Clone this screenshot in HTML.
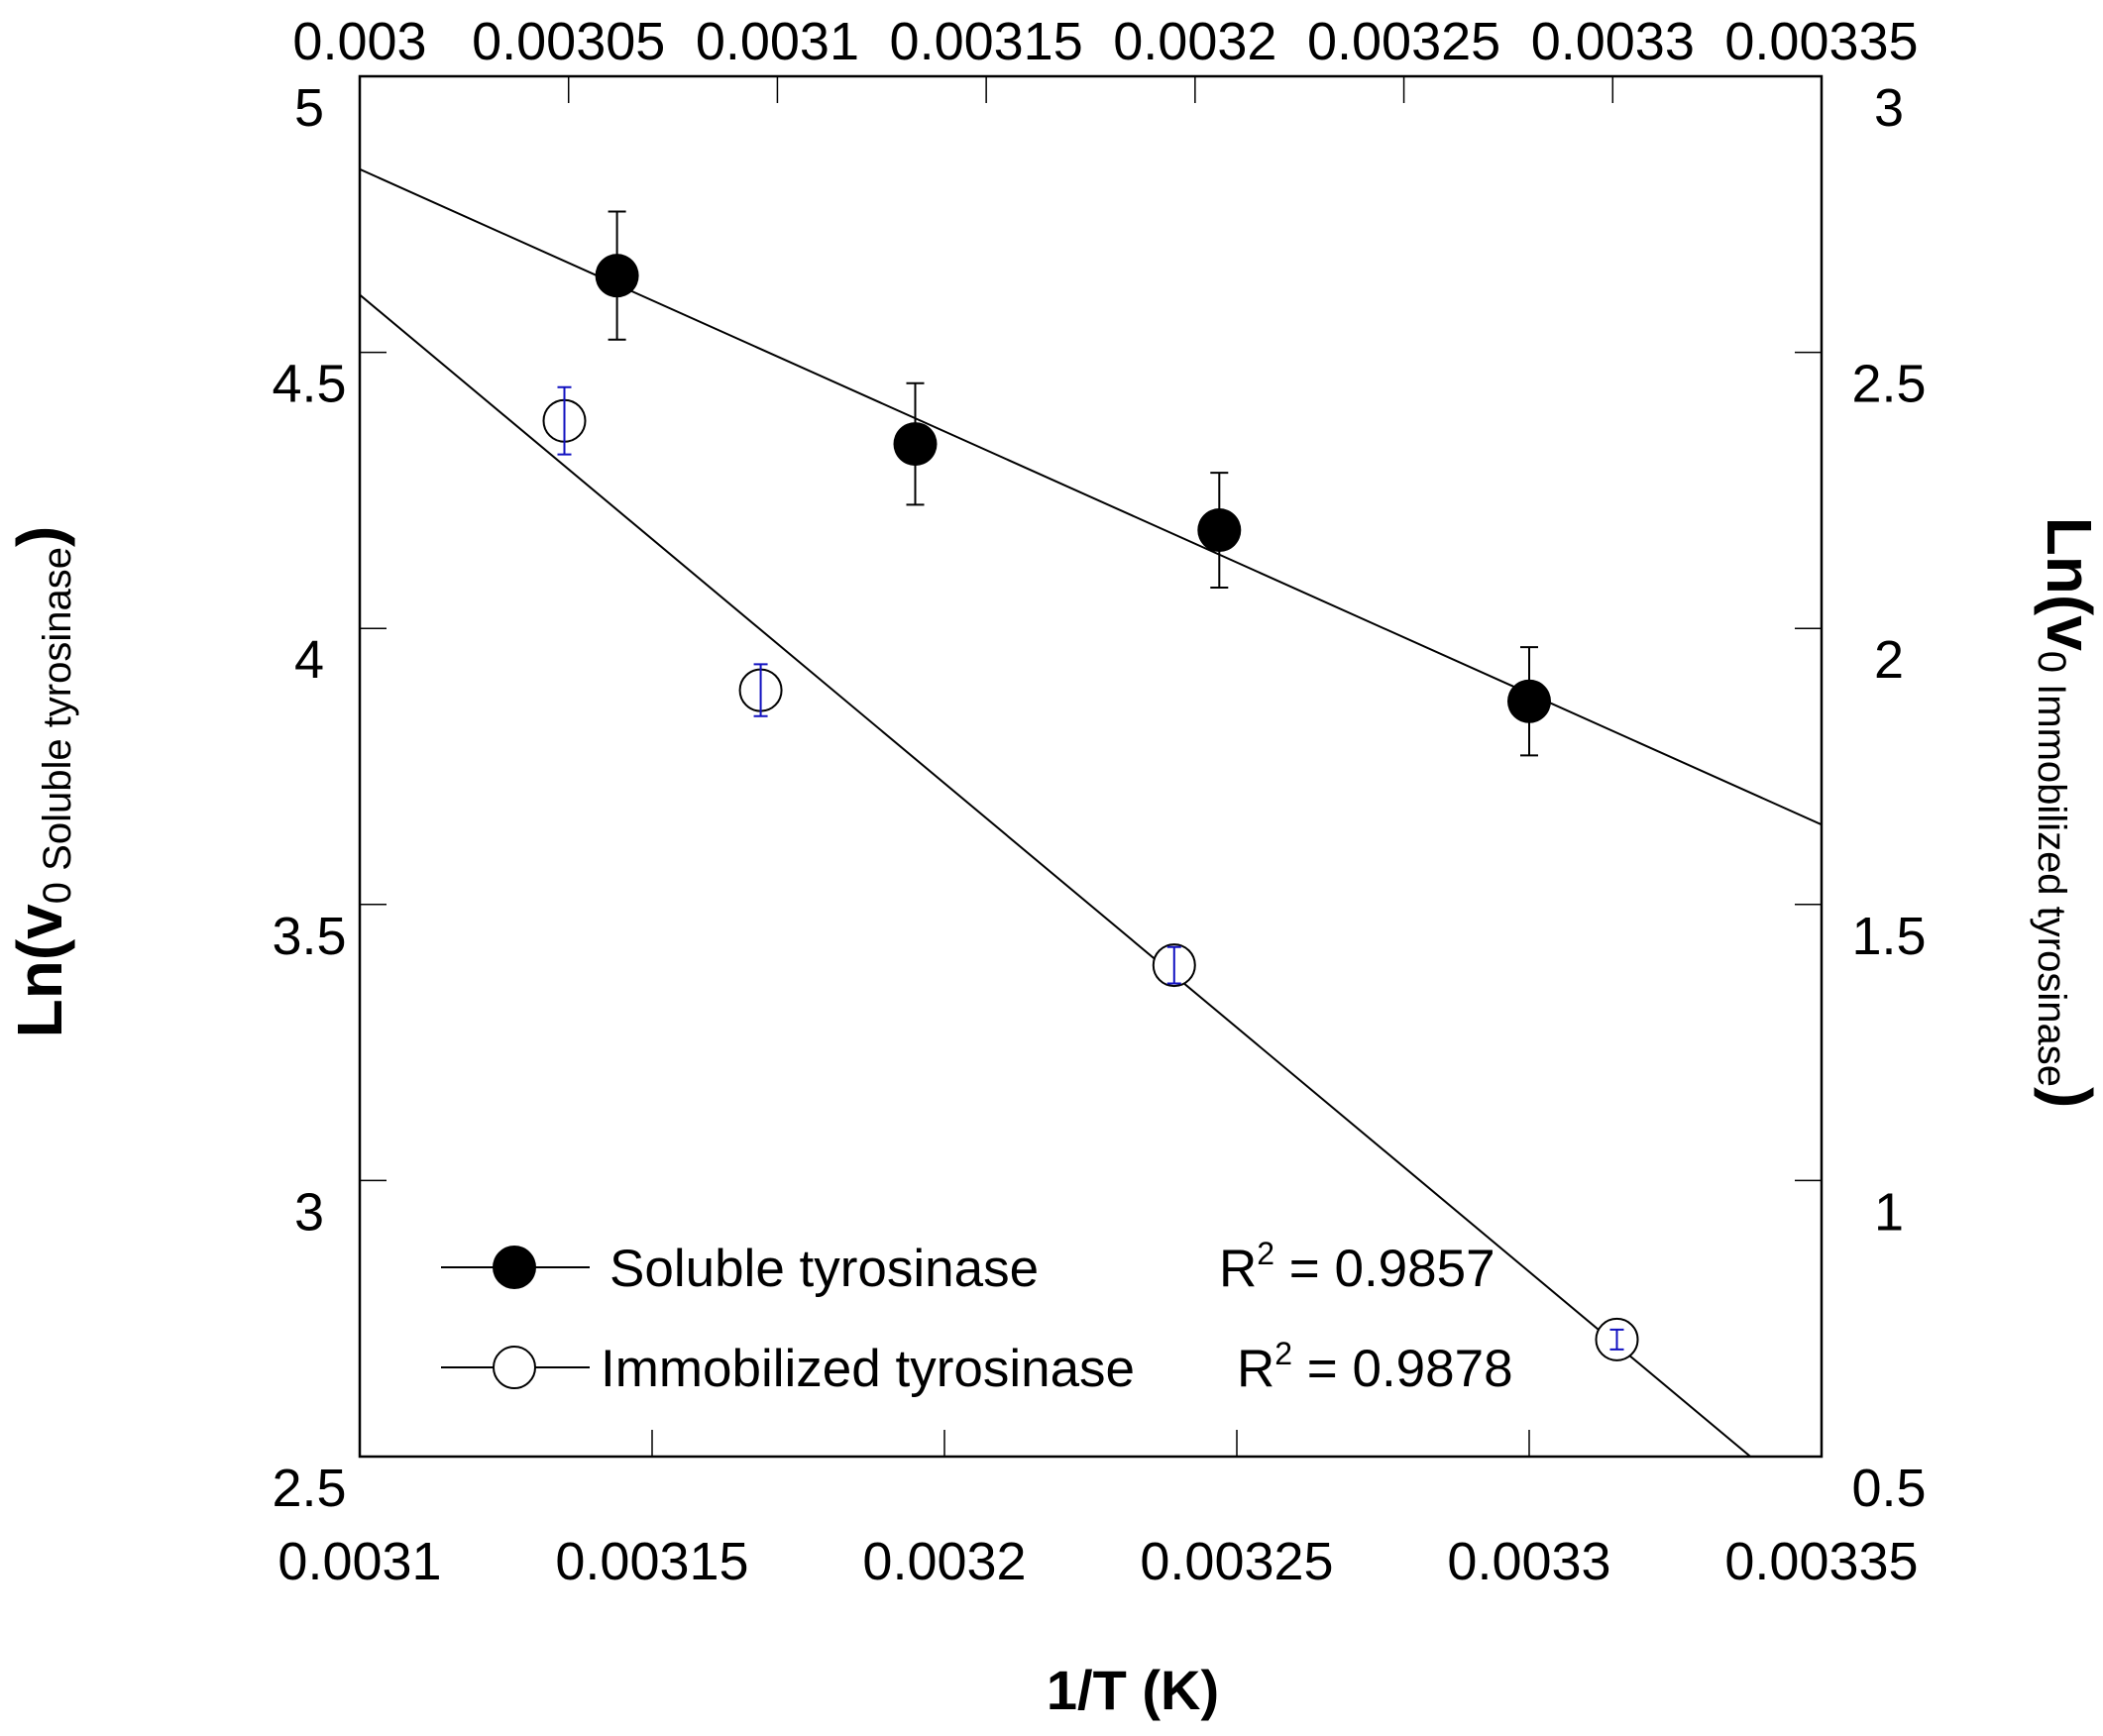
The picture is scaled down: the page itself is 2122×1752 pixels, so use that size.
<!DOCTYPE html>
<html><head><meta charset="utf-8"><style>
html,body{margin:0;padding:0;background:#fff}
svg{display:block;font-family:"Liberation Sans",Arial,sans-serif}
</style></head><body>
<svg id="chart" width="2122" height="1752" viewBox="0 0 2122 1752" xmlns="http://www.w3.org/2000/svg">
<g id="axes"></g>
<g id="marks"></g>
<g id="legend">
  <line x1="445" y1="1279" x2="595" y2="1279" stroke="#000" stroke-width="2"/>
  <circle cx="519" cy="1279" r="22" fill="#000"/>
  <text x="615" y="1298" font-size="53">Soluble tyrosinase</text>
  <text x="1230" y="1298" font-size="53">R<tspan font-size="32" dy="-22">2</tspan><tspan dy="22"> = 0.9857</tspan></text>
  <line x1="445" y1="1380" x2="595" y2="1380" stroke="#000" stroke-width="2"/>
  <circle cx="519" cy="1380" r="21" fill="#fff" stroke="#000" stroke-width="2"/>
  <text x="606" y="1399" font-size="53">Immobilized tyrosinase</text>
  <text x="1248" y="1399" font-size="53">R<tspan font-size="32" dy="-22">2</tspan><tspan dy="22"> = 0.9878</tspan></text>
</g>
<text x="1143" y="1725" font-size="56" font-weight="bold" text-anchor="middle">1/T (K)</text>
<text transform="translate(62,789) rotate(-90)" text-anchor="middle"><tspan font-size="64" font-weight="bold">Ln(v</tspan><tspan font-size="40" dy="9">0 Soluble tyrosinase</tspan><tspan font-size="64" font-weight="bold" dy="-9">)</tspan></text>
<text transform="translate(2066,820) rotate(90)" text-anchor="middle"><tspan font-size="64" font-weight="bold">Ln(v</tspan><tspan font-size="40" dy="9">0 Immobilized tyrosinase</tspan><tspan font-size="64" font-weight="bold" dy="-9">)</tspan></text>
</svg>
<script>
const bottomTicks = [0.0031, 0.00315, 0.0032, 0.00325, 0.0033, 0.00335];
const bottomTickLabels = ["0.0031","0.00315","0.0032","0.00325","0.0033","0.00335"];
const topTicks = [0.003, 0.00305, 0.0031, 0.00315, 0.0032, 0.00325, 0.0033, 0.00335];
const topTickLabels = ["0.003","0.00305","0.0031","0.00315","0.0032","0.00325","0.0033","0.00335"];
const leftTicks = [2.5, 3, 3.5, 4, 4.5, 5];
const leftTickLabels = ["2.5","3","3.5","4","4.5","5"];
const rightTicks = [0.5, 1, 1.5, 2, 2.5, 3];
const rightTickLabels = ["0.5","1","1.5","2","2.5","3"];
const solubleX = [0.003144, 0.003195, 0.003247, 0.0033];
const solubleY = [4.639, 4.334, 4.178, 3.868];
const solubleErr = [0.116, 0.11, 0.104, 0.098];
const immobX = [0.003049, 0.003096, 0.003195, 0.003301];
const immobY = [2.376, 1.888, 1.390, 0.712];
const immobErr = [0.061, 0.047, 0.033, 0.018];

const L=363, R=1838, T=77, B=1470;
const xb = v => L + (v-0.0031)/(0.00335-0.0031)*(R-L);
const xt = v => L + (v-0.003)/(0.00335-0.003)*(R-L);
const yl = v => B - (v-2.5)/(5-2.5)*(B-T);
const yr = v => B - (v-0.5)/(3-0.5)*(B-T);
const NS="http://www.w3.org/2000/svg";
function mk(parent, tag, attrs){const e=document.createElementNS(NS,tag);for(const k in attrs)e.setAttribute(k,attrs[k]);parent.appendChild(e);return e;}
const axes=document.getElementById('axes'), marks=document.getElementById('marks');

let fr=mk(axes,'rect',{x:L,y:T,width:R-L,height:B-T,fill:'none',stroke:'#000','stroke-width':2.5});


bottomTicks.forEach((v,i)=>{
  const x=xb(v);
  if(i>0&&i<bottomTicks.length-1){let t=mk(axes,'line',{x1:x,y1:B,x2:x,y2:B-27,stroke:'#000','stroke-width':1.5});
  
  }
  let tx=mk(axes,'text',{x:x,y:1594,'font-size':54,'text-anchor':'middle'});tx.textContent=bottomTickLabels[i];
  
  
});
topTicks.forEach((v,i)=>{
  const x=xt(v);
  if(i>0&&i<topTicks.length-1){let t=mk(axes,'line',{x1:x,y1:T,x2:x,y2:T+27,stroke:'#000','stroke-width':1.5});
  
  }
  let tx=mk(axes,'text',{x:x,y:60,'font-size':54,'text-anchor':'middle'});tx.textContent=topTickLabels[i];
  
  
});
leftTicks.forEach((v,i)=>{
  const y=yl(v);
  if(i>0&&i<leftTicks.length-1){let t=mk(axes,'line',{x1:L,y1:y,x2:L+27,y2:y,stroke:'#000','stroke-width':1.5});
  
  }
  let tx=mk(axes,'text',{x:312,y:y+50,'font-size':54,'text-anchor':'middle'});tx.textContent=leftTickLabels[i];
  
  
});
rightTicks.forEach((v,i)=>{
  const y=yr(v);
  if(i>0&&i<rightTicks.length-1){let t=mk(axes,'line',{x1:R,y1:y,x2:R-27,y2:y,stroke:'#000','stroke-width':1.5});
  
  }
  let tx=mk(axes,'text',{x:1906,y:y+50,'font-size':54,'text-anchor':'middle'});tx.textContent=rightTickLabels[i];
  
  
});

function fit(xs,ys){const n=xs.length;const mx=xs.reduce((a,b)=>a+b)/n,my=ys.reduce((a,b)=>a+b)/n;let sxy=0,sxx=0;for(let i=0;i<n;i++){sxy+=(xs[i]-mx)*(ys[i]-my);sxx+=(xs[i]-mx)**2;}const m=sxy/sxx;return [m,my-m*mx];}
const clip=mk(document.getElementById('chart'),'clipPath',{id:'pc'});
mk(clip,'rect',{x:L,y:T,width:R-L,height:B-T});

let [m1,b1]=fit(solubleX,solubleY);
let l1=mk(marks,'line',{x1:xb(0.0031),y1:yl(m1*0.0031+b1),x2:xb(0.00335),y2:yl(m1*0.00335+b1),stroke:'#000','stroke-width':2,'clip-path':'url(#pc)'});


let [m2,b2]=fit(immobX,immobY);
let l2=mk(marks,'line',{x1:xt(0.003),y1:yr(m2*0.003+b2),x2:xt(0.00335),y2:yr(m2*0.00335+b2),stroke:'#000','stroke-width':2,'clip-path':'url(#pc)'});



solubleX.forEach((v,i)=>{
  const x=xb(v),y=yl(solubleY[i]),y1=yl(solubleY[i]+solubleErr[i]),y2=yl(solubleY[i]-solubleErr[i]);
  let e=mk(marks,'path',{d:`M${x},${y1}V${y2}M${x-9},${y1}H${x+9}M${x-9},${y2}H${x+9}`,stroke:'#000','stroke-width':2,fill:'none'});
  
  
  let c=mk(marks,'circle',{cx:x,cy:y,r:22,fill:'#000'});
  
  
});
immobX.forEach((v,i)=>{
  const x=xt(v),y=yr(immobY[i]),y1=yr(immobY[i]+immobErr[i]),y2=yr(immobY[i]-immobErr[i]);
  let c=mk(marks,'circle',{cx:x,cy:y,r:21,fill:'#fff',stroke:'#000','stroke-width':2});
  
  
  let e=mk(marks,'path',{d:`M${x},${y1}V${y2}M${x-7},${y1}H${x+7}M${x-7},${y2}H${x+7}`,stroke:'#1010c0','stroke-width':2,fill:'none'});
  
  
});
</script>
</body></html>
